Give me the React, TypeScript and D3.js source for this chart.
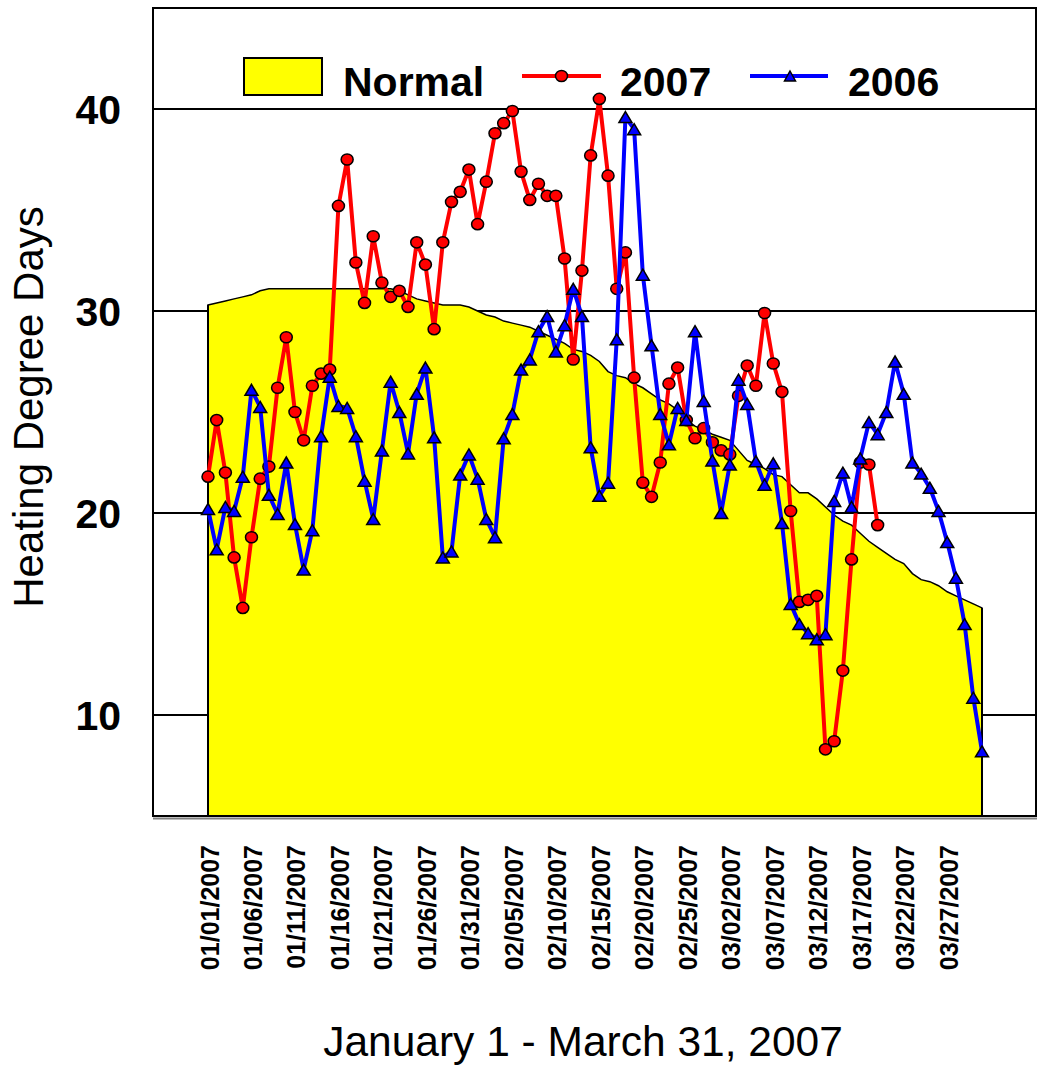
import * as d3 from "d3";

// Heating degree days, Jan 1 - Mar 31
const normal = [
  30.3, 30.4, 30.5, 30.6, 30.7, 30.8, 31.0, 31.1, 31.1, 31.1,
  31.1, 31.1, 31.1, 31.1, 31.1, 31.1, 31.1, 31.1, 31.1, 31.1,
  31.1, 31.1, 31.0, 30.8, 30.6, 30.5, 30.4, 30.3, 30.3, 30.3,
  30.2, 30.0, 29.8, 29.7, 29.5, 29.4, 29.3, 29.2, 29.0, 28.8,
  28.6, 28.4, 28.1, 28.0, 27.8, 27.5, 27.0, 26.8, 26.7, 26.4,
  26.2, 25.9, 25.6, 25.4, 25.1, 24.6, 24.3, 24.1, 23.9, 23.75,
  23.6, 23.1, 22.6, 22.4, 22.2, 21.9, 21.8, 21.4, 21.0, 21.0,
  20.7, 20.3, 19.9, 19.6, 19.4, 19.0, 18.6, 18.3, 18.0, 17.7,
  17.5, 17.0, 16.7, 16.6, 16.4, 16.1, 15.9, 15.7, 15.5, 15.3,
];

const hdd2007 = [
  21.8, 24.6, 22.0, 17.8, 15.3, 18.8, 21.7, 22.3, 26.2, 28.7,
  25.0, 23.6, 26.3, 26.9, 27.1, 35.2, 37.5, 32.4, 30.4, 33.7,
  31.4, 30.7, 31.0, 30.2, 33.4, 32.3, 29.1, 33.4, 35.4, 35.9,
  37.0, 34.3, 36.4, 38.8, 39.3, 39.9, 36.9, 35.5, 36.3, 35.7,
  35.7, 32.6, 27.6, 32.0, 37.7, 40.5, 36.7, 31.1, 32.9, 26.7,
  21.5, 20.8, 22.5, 26.4, 27.2, 24.6, 23.7, 24.2, 23.5, 23.1,
  22.9, 25.8, 27.3, 26.3, 29.9, 27.4, 26.0, 20.1, 15.6, 15.7,
  15.9, 8.3, 8.7, 12.2, 17.7, 22.5, 22.4, 19.4,
];

const hdd2006 = [
  20.2, 18.2, 20.3, 20.1, 21.8, 26.1, 25.25, 20.9, 19.95, 22.5,
  19.45, 17.2, 19.15, 23.8, 26.75, 25.3, 25.2, 23.8, 21.6, 19.7,
  23.1, 26.5, 25.0, 22.95, 25.9, 27.2, 23.75, 17.8, 18.1, 21.9,
  22.9, 21.7, 19.7, 18.8, 23.7, 24.9, 27.1, 27.6, 29.0, 29.75,
  28.0, 29.3, 31.1, 29.75, 23.25, 20.85, 21.5, 28.6, 39.6, 39.0,
  31.8, 28.3, 24.9, 23.4, 25.2, 24.6, 29.0, 25.55, 22.6, 20.0,
  22.4, 26.6, 25.4, 22.56, 21.4, 22.46, 19.5, 15.5, 14.5, 14.05,
  13.75, 14.0, 20.6, 22.0, 20.3, 22.7, 24.5, 23.9, 25.0, 27.5,
  25.9, 22.5, 21.95, 21.25, 20.1, 18.56, 16.8, 14.5, 10.86, 8.2,
];

const dateTicks = [
  "01/01/2007", "01/06/2007", "01/11/2007", "01/16/2007", "01/21/2007",
  "01/26/2007", "01/31/2007", "02/05/2007", "02/10/2007", "02/15/2007",
  "02/20/2007", "02/25/2007", "03/02/2007", "03/07/2007", "03/12/2007",
  "03/17/2007", "03/22/2007", "03/27/2007",
];
const tickStep = 5;
const yTicks = [10, 20, 30, 40];

const width = 1038;
const height = 1084;
const plotLeft = 153;
const plotRight = 1036;
const plotTop = 8;
const plotBottom = 816;
const font = "'Liberation Sans', Arial, Helvetica, sans-serif";

const x = d3.scaleLinear().domain([0, 89]).range([208, 982]);
const y = d3.scaleLinear().domain([5, 45]).range([plotBottom, plotTop]);

const normalArea = d3
  .area<number>()
  .x((_, i) => x(i))
  .y0(y(5))
  .y1((d) => y(d));

const line = d3
  .line<number>()
  .x((_, i) => x(i))
  .y((d) => y(d));

const triangle = (cx: number, cy: number, w = 13, h = 11) =>
  `M${cx},${cy - h / 2}L${cx + w / 2},${cy + h / 2}L${cx - w / 2},${cy + h / 2}Z`;

export default function App() {
  return (
    <svg
      width={width}
      height={height}
      style={{ position: "absolute", left: 0, top: 0, background: "#fff" }}
      fontFamily={font}
    >
      {/* grid */}
      {yTicks.map((t) => (
        <line
          key={t}
          x1={plotLeft}
          x2={plotRight}
          y1={y(t)}
          y2={y(t)}
          stroke="#000"
          strokeWidth={2}
        />
      ))}

      {/* normal area */}
      <path
        d={normalArea(normal) ?? ""}
        fill="#ffff00"
        stroke="#000"
        strokeWidth={1.5}
      />
      <line x1={x(0)} x2={x(0)} y1={y(normal[0])} y2={plotBottom} stroke="#000" strokeWidth={2} />
      <line x1={x(89)} x2={x(89)} y1={y(normal[89])} y2={plotBottom} stroke="#000" strokeWidth={2} />

      {/* 2007 */}
      <path d={line(hdd2007) ?? ""} fill="none" stroke="#ff0000" strokeWidth={4} strokeLinejoin="round" />
      {hdd2007.map((d, i) => (
        <ellipse
          key={"r" + i}
          cx={x(i)}
          cy={y(d)}
          rx={6}
          ry={5.6}
          fill="#ff0000"
          stroke="#000"
          strokeWidth={1.5}
        />
      ))}

      {/* 2006 */}
      <path d={line(hdd2006) ?? ""} fill="none" stroke="#0000ff" strokeWidth={4} strokeLinejoin="round" />
      {hdd2006.map((d, i) => (
        <path
          key={"b" + i}
          d={triangle(x(i), y(d))}
          fill="#0000ff"
          stroke="#000"
          strokeWidth={1.5}
          strokeLinejoin="miter"
        />
      ))}

      {/* frame */}
      <rect
        x={plotLeft}
        y={plotTop}
        width={plotRight - plotLeft}
        height={plotBottom - plotTop}
        fill="none"
        stroke="#000"
        strokeWidth={2}
      />
      <line x1={plotLeft} x2={plotRight + 1} y1={plotBottom + 2.5} y2={plotBottom + 2.5} stroke="#808080" strokeWidth={2} />

      {/* y ticks */}
      {yTicks.map((t) => (
        <text
          key={"yt" + t}
          x={121}
          y={y(t) + 15}
          textAnchor="end"
          fontSize={41}
          fontWeight="bold"
        >
          {t}
        </text>
      ))}

      {/* x ticks */}
      {dateTicks.map((label, i) => (
        <text
          key={label}
          transform={`translate(${x(i * tickStep) + 10.5},845) rotate(-90)`}
          textAnchor="end"
          fontSize={25}
          fontWeight="bold"
        >
          {label}
        </text>
      ))}

      {/* axis titles */}
      <text transform="translate(43,407) rotate(-90)" textAnchor="middle" fontSize={42}>
        Heating Degree Days
      </text>
      <text x={583} y={1056} textAnchor="middle" fontSize={42.5}>
        January 1 - March 31, 2007
      </text>

      {/* legend */}
      <rect x={244} y={58} width={78} height={37} fill="#ffff00" stroke="#000" strokeWidth={2} />
      <text x={343} y={95.5} fontSize={41} fontWeight="bold">Normal</text>
      <line x1={522} x2={601} y1={76} y2={76} stroke="#ff0000" strokeWidth={4} />
      <ellipse cx={561.5} cy={76} rx={6} ry={5.6} fill="#ff0000" stroke="#000" strokeWidth={1.5} />
      <text x={620} y={95.5} fontSize={41} fontWeight="bold">2007</text>
      <line x1={750} x2={828} y1={76} y2={76} stroke="#0000ff" strokeWidth={4} />
      <path d={triangle(790, 76, 11, 10)} fill="#0000ff" stroke="#000" strokeWidth={1.5} />
      <text x={848} y={95.5} fontSize={41} fontWeight="bold">2006</text>
    </svg>
  );
}
